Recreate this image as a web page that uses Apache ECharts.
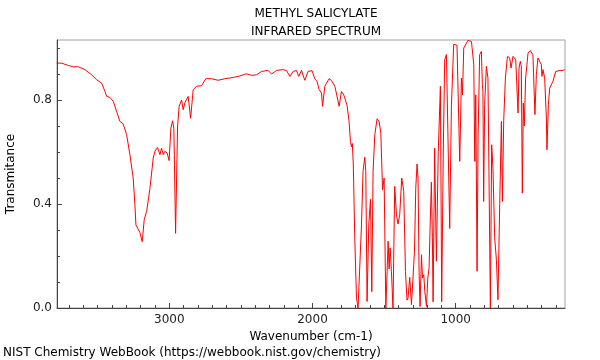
<!DOCTYPE html>
<html>
<head>
<meta charset="utf-8">
<script src="https://cdn.jsdelivr.net/npm/echarts@6/dist/echarts.min.js"></script>
<style>html,body{margin:0;padding:0;background:#fff;}#c{width:600px;height:360px;}</style>
</head>
<body>
<div id="c"></div>
<script>
// Wavenumber (cm-1), descending
const wavenumbers = [
3786,3751,3705,3670,3636,3589,3542,3507,3472,3449,3437,3414,3391,3368,3345,3322,3298,3275,3252,3240,
3233,3205,3189,3175,3158,3135,3112,3100,3082,3065,3054,3042,3031,3015,3001,2989,2977,2968,2956,2942,
2931,2914,2903,2891,2868,2851,2833,2809,2775,2745,2705,2659,2612,2554,2519,2461,2426,2391,2356,2310,
2286,2251,2205,2181,2158,2135,2112,2096,2077,2054,2031,2003,1984,1968,1954,1937,1930,1914,1902,1884,
1867,1844,1832,1814,1798,1782,1770,1759,1745,1735,1728,1722,1715,1705,1693,1682,1670,1658,1647,1635,
1628,1619,1607,1595,1586,1577,1565,1549,1535,1523,1511,1500,1488,1479,1472,1465,1458,1449,1438,1426,
1414,1403,1391,1377,1363,1351,1340,1333,1321,1309,1298,1288,1279,1270,1263,1256,1249,1239,1232,1223,
1216,1204,1195,1186,1177,1170,1163,1158,1147,1135,1122,1107,1098,1087,1077,1065,1054,1042,1030,1014,
991,972,960,953,944,914,890,874,867,860,851,844,833,821,814,810,805,798,786,775,
768,758,749,740,728,716,712,705,693,681,674,665,653,639,623,614,600,581,572,565,
558,549,542,535,528,521,512,495,479,461,447,437,426,414,402,398,391,379,367,363,
353,344,332,321,302,279,251,239
];
// Transmittance
const transmittance = [
0.942,0.942,0.933,0.928,0.928,0.917,0.897,0.878,0.865,0.833,0.814,0.810,0.795,0.757,0.718,0.708,0.667,0.590,0.500,0.397,
0.320,0.290,0.255,0.340,0.372,0.460,0.577,0.603,0.618,0.590,0.615,0.590,0.603,0.596,0.567,0.692,0.720,0.690,0.287,0.700,
0.776,0.800,0.763,0.790,0.814,0.730,0.840,0.853,0.855,0.882,0.882,0.876,0.882,0.887,0.891,0.901,0.895,0.897,0.910,0.914,
0.900,0.914,0.917,0.913,0.891,0.910,0.914,0.891,0.914,0.876,0.910,0.913,0.882,0.872,0.840,0.827,0.776,0.853,0.865,0.882,
0.875,0.853,0.858,0.776,0.833,0.820,0.800,0.780,0.720,0.640,0.620,0.633,0.550,0.270,0.040,0.000,0.000,0.320,0.526,0.580,
0.526,0.025,0.320,0.418,0.063,0.526,0.667,0.728,0.718,0.673,0.455,0.500,0.000,0.141,0.257,0.150,0.231,0.141,0.000,0.468,
0.359,0.323,0.359,0.500,0.449,0.141,0.030,0.038,0.118,0.013,0.006,0.218,0.460,0.554,0.500,0.141,0.006,0.205,0.115,0.128,
0.064,0.006,0.115,0.156,0.346,0.484,0.270,0.024,0.615,0.180,0.600,0.853,0.024,0.600,0.955,0.975,0.977,0.306,0.780,1.015,
1.010,0.564,0.885,0.820,1.000,1.030,1.025,0.936,0.564,0.820,0.141,0.654,0.974,0.987,0.859,0.833,0.410,0.782,0.930,0.885,
0.526,0.000,0.628,0.538,0.270,0.186,0.190,0.032,0.397,0.718,0.410,0.720,0.885,0.968,0.962,0.923,0.968,0.955,0.950,0.750,
0.923,0.949,0.930,0.442,0.788,0.700,0.885,0.981,0.990,0.974,0.744,0.897,0.962,0.968,0.936,0.891,0.917,0.885,0.730,0.609,
0.782,0.846,0.840,0.872,0.910,0.913,0.914,0.917
];
const xMajorTicks = [1000, 2000, 3000];
const xMinorTicks = [300,400,500,600,700,800,900,1100,1200,1300,1400,1500,1600,1700,1800,1900,2100,2200,2300,2400,2500,2600,2700,2800,2900,3100,3200,3300,3400,3500,3600,3700];
const yMajorTicks = [0, 0.4, 0.8];
const yMinorTicks = [0.1,0.2,0.3,0.5,0.6,0.7,0.9,1.0];
const titleLines = ['METHYL SALICYLATE', 'INFRARED SPECTRUM'];
const xName = 'Wavenumber (cm-1)';
const yName = 'Transmitance';
const footer = 'NIST Chemistry WebBook (https://webbook.nist.gov/chemistry)';

const XMIN = 237, XMAX = 3784, YMIN = 0, YMAX = 1.031;
const FONT = 'DejaVu Sans';
const seriesData = wavenumbers.map((w, i) => [w, transmittance[i]]);

const chart = echarts.init(document.getElementById('c'), null, {renderer: 'canvas'});
chart.setOption({
  animation: false,
  backgroundColor: '#fff',
  title: {
    text: titleLines.join('\n'),
    left: 311, top: 0, textAlign: 'center',
    textStyle: {fontFamily: FONT, fontSize: 12, fontWeight: 'normal', color: '#000', lineHeight: 18}
  },
  grid: {left: 57, right: 35, top: 40, bottom: 52, containLabel: false, outerBoundsMode: 'none',
         show: true, borderColor: '#a0a0a0', borderWidth: 1, backgroundColor: 'transparent'},
  xAxis: [{
    type: 'value', inverse: true, min: XMIN, max: XMAX, position: 'bottom',
    axisLine: {show: true, onZero: false, lineStyle: {color: '#444', width: 1}},
    axisTick: {show: true, inside: true, length: 5, customValues: xMajorTicks, lineStyle: {color: '#444'}},
    axisLabel: {customValues: xMajorTicks, formatter: v => String(Math.round(v)), color: '#222', fontFamily: FONT, fontSize: 12, margin: 6},
    splitLine: {show: false},
    name: xName, nameLocation: 'middle', nameGap: 13,
    nameTextStyle: {fontFamily: FONT, fontSize: 12, color: '#000'}
  }, {
    type: 'value', inverse: true, min: XMIN, max: XMAX, position: 'bottom',
    axisLine: {show: false, onZero: false},
    axisTick: {show: true, inside: true, length: 3, customValues: xMinorTicks, lineStyle: {color: '#444'}},
    axisLabel: {show: false},
    splitLine: {show: false}
  }],
  yAxis: [{
    type: 'value', min: YMIN, max: YMAX, position: 'left',
    axisLine: {show: true, onZero: false, lineStyle: {color: '#444', width: 1}},
    axisTick: {show: true, inside: true, length: 5, customValues: yMajorTicks, lineStyle: {color: '#444'}},
    axisLabel: {customValues: yMajorTicks, formatter: v => v.toFixed(1), color: '#222', fontFamily: FONT, fontSize: 12, margin: 5},
    splitLine: {show: false},
    name: yName, nameLocation: 'middle', nameGap: 40, nameRotate: 90,
    nameTextStyle: {fontFamily: FONT, fontSize: 12, color: '#000'}
  }, {
    type: 'value', min: YMIN, max: YMAX, position: 'left',
    axisLine: {show: false, onZero: false},
    axisTick: {show: true, inside: true, length: 3, customValues: yMinorTicks, lineStyle: {color: '#444'}},
    axisLabel: {show: false},
    splitLine: {show: false}
  }],
  graphic: [{
    type: 'text', left: 3, top: 347,
    style: {text: footer, fontFamily: FONT, fontSize: 12, fill: '#000'}
  }],
  series: [{
    type: 'line', xAxisIndex: 0, yAxisIndex: 0,
    data: seriesData, showSymbol: false, symbol: 'none', clip: true,
    lineStyle: {color: '#ff0000', width: 1},
    z: 3
  }]
});
</script>
</body>
</html>
